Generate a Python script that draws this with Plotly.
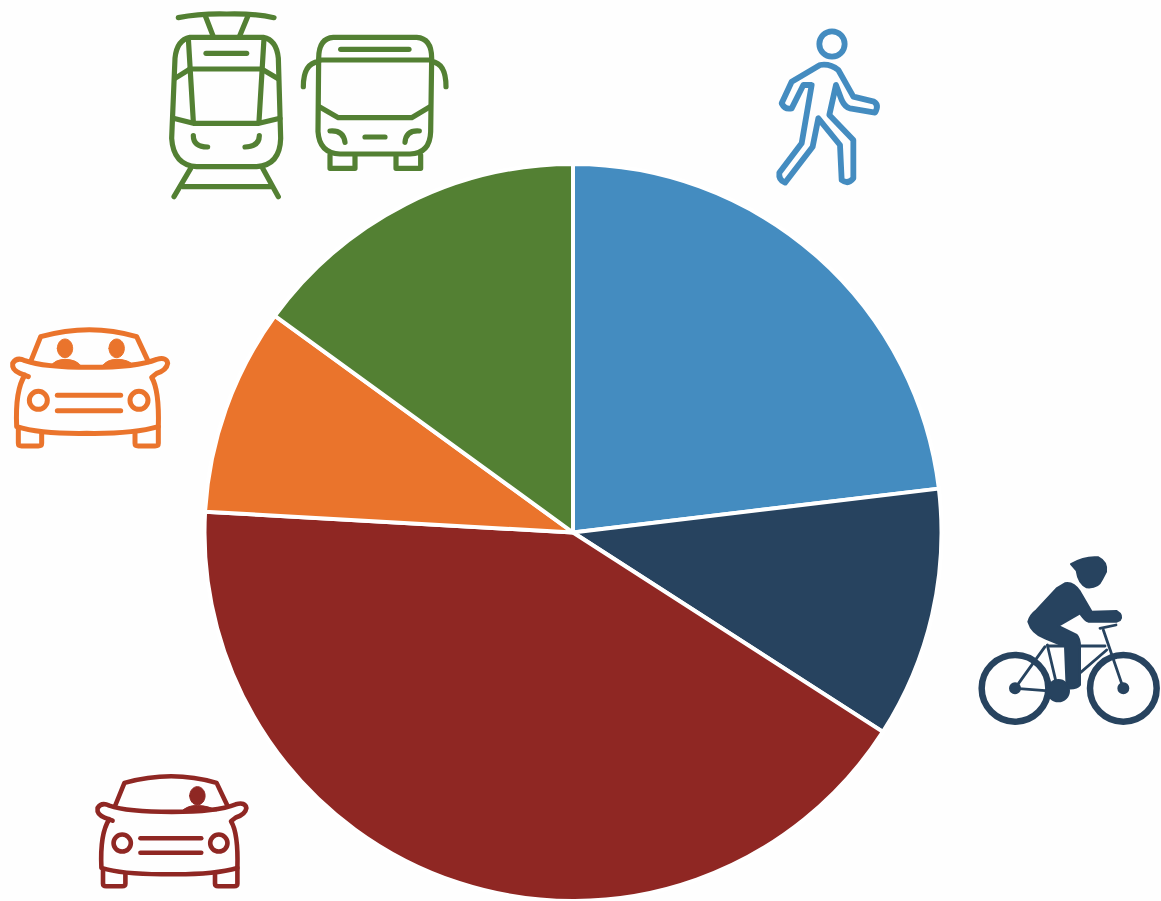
import re
import plotly.graph_objects as go

categories = ["Walking", "Cycling", "Car driver", "Car passenger", "Public transport"]
shares = [23.1, 11.0, 41.8, 9.1, 15.0]
colors = ["#448cc0", "#27435f", "#8f2723", "#ea742c", "#538033"]

W, H = 1161, 901
CX, CY, R = 573, 532.5, 368.5


def to_paper(path, fx):
    nums = iter(re.findall(r"[A-Za-z]|-?[\d.]+", path))
    out, is_x = [], True
    for t in nums:
        if t.isalpha():
            out.append(t)
            is_x = True
        else:
            v = float(t)
            if is_x:
                px, _ = fx(v, 0)
                out.append(f"{px / W:.5f}")
            else:
                _, py = fx(0, v)
                out.append(f"{1 - py / H:.5f}")
            is_x = not is_x
    return " ".join(out)


def circle(cx, cy, rx, ry=None):
    ry = ry or rx
    k = 0.5523
    return (f"M{cx-rx} {cy} C{cx-rx} {cy-k*ry} {cx-k*rx} {cy-ry} {cx} {cy-ry} "
            f"C{cx+k*rx} {cy-ry} {cx+rx} {cy-k*ry} {cx+rx} {cy} "
            f"C{cx+rx} {cy+k*ry} {cx+k*rx} {cy+ry} {cx} {cy+ry} "
            f"C{cx-k*rx} {cy+ry} {cx-rx} {cy+k*ry} {cx-rx} {cy} Z")


def zoom_map(ox, oy, sx=1 / 3, sy=1 / 3, ax=0, ay=0, bx=0, by=0):
    return lambda x, y: (ox + (bx + (x - ax) * sx), oy + (by + (y - ay) * sy))


shapes = []


def stroke(paths, fx, color, width):
    for p in paths:
        shapes.append(dict(type="path", xref="paper", yref="paper", path=to_paper(p, fx),
                           line=dict(color=color, width=width), fillcolor="rgba(0,0,0,0)", layer="above"))


def fill(paths, fx, color, width=1):
    for p in paths:
        shapes.append(dict(type="path", xref="paper", yref="paper", path=to_paper(p, fx),
                           line=dict(color=color, width=width), fillcolor=color, layer="above"))


# Tram and bus
green = colors[4]
fg = zoom_map(160, 5)
stroke([
    "M55 38 Q120 25 200 27 Q290 25 342 38", "M135 30 L160 95", "M265 30 L238 95",
    "M90 97 L310 97 Q350 105 355 160 L362 400 Q360 480 290 485 L110 485 Q40 480 35 400 L45 160 Q50 105 90 97 Z",
    "M138 145 L260 145", "M85 100 L100 350", "M312 100 L297 350", "M90 192 L305 192",
    "M40 340 L100 355 L297 355 L360 340", "M45 220 L90 192", "M305 192 L352 220",
    "M100 392 Q100 425 143 426", "M298 392 Q298 425 255 426",
    "M92 490 L42 575", "M308 490 L355 575", "M70 545 L330 545",
    "M520 97 L770 97 Q815 100 815 160 L812 380 Q810 445 750 447 L540 447 Q478 445 474 380 L476 160 Q476 100 520 97 Z",
    "M476 165 L815 165", "M542 133 L747 133", "M476 170 Q430 175 430 245", "M815 170 Q858 175 858 245",
    "M478 305 L535 338 L755 338 L810 305", "M510 378 Q550 375 555 412", "M778 378 Q738 375 735 412",
    "M615 396 L675 396", "M510 450 L510 490 L585 490 L585 450", "M708 450 L708 490 L782 490 L782 450",
], fg, green, 5.2)

# Walker
fw = zoom_map(770, 20)
stroke([
    circle(186, 72, 38),
    "M150 135 Q180 130 205 150 L250 230 L312 245 Q328 255 315 278 L240 265 Q225 262 215 240 L198 195 "
    "L178 285 L250 360 L250 475 Q235 495 215 480 L210 375 L145 295 L128 380 L45 488 Q25 480 28 458 "
    "L95 370 L125 195 L100 195 L65 265 Q45 270 35 250 L65 185 Z",
], fw, colors[0], 5.8)

# Cyclist
fb = zoom_map(970, 550)
navy = colors[1]
stroke([circle(135, 415, 100), circle(460, 415, 100)], fb, navy, 6.5)
stroke(["M135 415 L225 290", "M135 415 L265 425", "M232 285 L265 425", "M235 288 L405 288",
        "M265 425 L410 300", "M460 415 L400 240", "M390 235 L438 225"], fb, navy, 2.8)
fill([
    "M303 42 Q345 18 385 22 Q412 35 408 65 L395 90 Q385 115 350 112 Q325 100 320 62 Z",
    "M285 100 Q310 95 330 125 L365 185 L440 183 Q460 195 450 210 L440 215 L355 215 Q345 212 330 190 "
    "L265 228 L320 255 Q330 265 330 290 L330 405 Q320 418 290 415 L285 290 L225 265 Q185 250 175 215 "
    "Q180 195 200 180 L260 115 Z",
    circle(265, 422, 32), circle(135, 415, 15), circle(460, 415, 15),
], fb, navy, 2)

# Cars
car_lines = [
    "M92 125 L122 50 Q270 8 410 50 L445 125",
    "M85 170 L60 160 Q35 150 38 130 Q50 110 75 122 Q130 142 270 142 Q410 142 470 118 Q500 110 503 130 "
    "Q500 150 470 160 L455 172 Q478 210 475 320 Q400 342 260 340 Q120 342 50 320 Q45 210 75 165",
    "M55 325 L55 370 Q55 378 65 378 L115 378 Q125 378 125 370 L125 338",
    "M405 338 L405 370 Q405 378 415 378 L465 378 Q475 378 475 370 L475 320",
    circle(115, 241, 27), circle(417, 241, 27),
    "M172 226 L362 226", "M172 272 L362 272",
]
fo = zoom_map(0, 320)
stroke(car_lines, fo, colors[3], 5)
fill([circle(195, 85, 23, 28), circle(350, 85, 23, 28),
      "M150 140 Q165 118 195 118 Q230 118 245 140 Z", "M305 140 Q320 118 350 118 Q385 118 400 135 Z"],
     fo, colors[3])

fr = zoom_map(85, 765, sx=0.96 / 3, sy=0.945 / 3, ax=30, ay=25, bx=10, by=10)
stroke(car_lines, fr, colors[2], 4.6)
fill([circle(350, 91, 24, 29), "M298 142 Q320 120 350 122 Q385 122 410 138 Z"], fr, colors[2])

fig = go.Figure(go.Pie(
    labels=categories, values=shares, sort=False, direction="clockwise", rotation=0,
    marker=dict(colors=colors, line=dict(color="#ffffff", width=4)),
    textinfo="none", showlegend=False,
    domain=dict(x=[(CX - R) / W, (CX + R) / W], y=[(H - CY - R) / H, (H - CY + R) / H]),
))
fig.update_layout(width=W, height=H, margin=dict(l=0, r=0, t=0, b=0),
                  paper_bgcolor="#fefefe", plot_bgcolor="#fefefe", shapes=shapes)
fig.write_html("out.html", config={"displayModeBar": False}, post_script=(
    "document.body.style.margin='0';"
    "document.querySelectorAll('.shapelayer path').forEach(function(p){"
    "p.style.strokeLinecap='round';p.style.strokeLinejoin='round';});"
))
